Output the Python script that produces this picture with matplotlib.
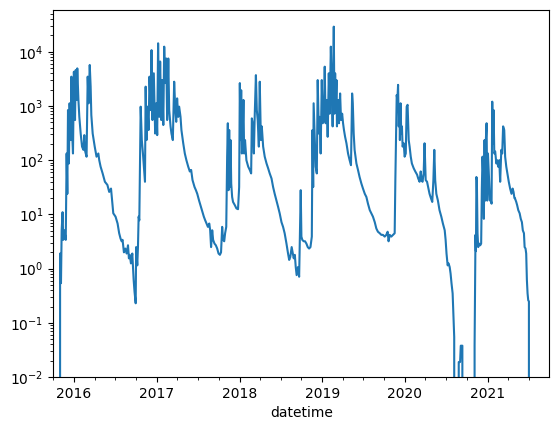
import matplotlib
matplotlib.use("Agg")
import matplotlib.pyplot as plt
import matplotlib.dates as mdates
import pandas as pd

# daily flow; day = days since start of record
start = "2015-10-01"
day = [
    0, 29, 30, 34, 37, 41, 44, 49, 55, 59, 62, 65, 69, 72, 77, 80, 84, 87, 91, 96,
    99, 103, 106, 111, 115, 121, 127, 133, 137, 141, 147, 152, 156, 161, 165, 168, 174, 183, 191, 199,
    203, 209, 218, 228, 239, 247, 255, 259, 265, 275, 284, 291, 297, 302, 306, 312, 318, 324, 330, 334,
    338, 343, 349, 355, 359, 364, 366, 371, 374, 377, 380, 383, 386, 389, 391, 396, 400, 405, 408, 412,
    416, 421, 425, 430, 434, 438, 444, 450, 455, 459, 463, 468, 472, 477, 481, 486, 490, 494, 499, 503,
    508, 512, 518, 522, 528, 534, 539, 543, 547, 552, 556, 562, 566, 574, 581, 588, 596, 603, 609, 615,
    624, 630, 636, 644, 652, 659, 665, 671, 677, 683, 689, 693, 697, 702, 706, 712, 718, 724, 730, 736,
    741, 746, 750, 755, 759, 764, 768, 771, 774, 777, 780, 783, 786, 790, 794, 802, 809, 816, 821, 824,
    827, 830, 833, 836, 840, 843, 847, 853, 861, 868, 874, 877, 881, 886, 890, 895, 899, 903, 908, 912,
    917, 921, 927, 934, 942, 949, 956, 964, 971, 978, 986, 993, 1000, 1008, 1015, 1022, 1030, 1037, 1042, 1047,
    1053, 1058, 1062, 1067, 1071, 1075, 1081, 1086, 1090, 1093, 1096, 1100, 1106, 1112, 1118, 1124, 1130, 1136, 1142, 1145,
    1148, 1150, 1155, 1159, 1164, 1168, 1173, 1177, 1181, 1186, 1190, 1195, 1199, 1203, 1208, 1212, 1217, 1221, 1226, 1230,
    1234, 1239, 1242, 1245, 1248, 1251, 1253, 1258, 1262, 1267, 1271, 1276, 1280, 1284, 1289, 1295, 1302, 1309, 1315, 1320,
    1323, 1327, 1331, 1339, 1346, 1353, 1361, 1368, 1376, 1383, 1390, 1398, 1405, 1412, 1420, 1427, 1434, 1442, 1449, 1456,
    1464, 1471, 1477, 1481, 1486, 1493, 1501, 1508, 1511, 1514, 1517, 1520, 1523, 1526, 1529, 1531, 1534, 1537, 1540, 1543,
    1548, 1552, 1557, 1561, 1565, 1570, 1574, 1579, 1584, 1592, 1599, 1607, 1612, 1618, 1623, 1627, 1631, 1636, 1640, 1645,
    1651, 1656, 1662, 1668, 1674, 1679, 1683, 1687, 1692, 1699, 1706, 1714, 1721, 1729, 1733, 1737, 1742, 1746, 1751, 1755,
    1759, 1764, 1768, 1771, 1774, 1790, 1791, 1797, 1800, 1807, 1808, 1860, 1861, 1865, 1867, 1869, 1871, 1874, 1877, 1881,
    1886, 1890, 1893, 1896, 1899, 1902, 1905, 1908, 1911, 1914, 1917, 1920, 1924, 1929, 1933, 1936, 1939, 1942, 1945, 1948,
    1952, 1957, 1961, 1965, 1970, 1974, 1979, 1983, 1987, 1992, 1996, 2001, 2007, 2012, 2018, 2024, 2029, 2033, 2037, 2039,
    2045, 2049, 2054, 2060, 2065, 2070, 2074, 2079, 2082, 2086, 2089, 2092, 2095, 2098, 2101, 2103, 2191,
]
flow = [
    0, 0, 1.9, 0.54, 5.1, 11, 3.4, 5.1, 3.4, 133, 24, 840, 87, 1120, 235, 3470, 270, 133, 4270, 550,
    4600, 1290, 4930, 1290, 630, 310, 178, 155, 290, 145, 116, 3470, 1120, 5700, 2270, 680, 310, 178, 116, 133,
    100, 76, 57, 40, 35, 26, 30, 20, 10.5, 9.1, 6.8, 4.5, 3.6, 3.2, 3.4, 2.0, 2.35, 1.9, 2.7, 1.55,
    1.8, 1.25, 1.9, 0.62, 0.37, 0.23, 2.5, 1.15, 2.5, 9.1, 7.8, 76, 970, 420, 235, 133, 76, 40, 2270, 235,
    970, 360, 3470, 840, 10700, 550, 4000, 310, 1120, 290, 14300, 630, 6600, 550, 3000, 445, 12400, 2640, 7500, 550,
    7500, 840, 420, 310, 235, 2800, 840, 510, 1380, 630, 970, 630, 360, 205, 133, 100, 76, 62, 66, 43,
    32, 28, 24, 18, 13.8, 11, 9.1, 7.8, 6.8, 5.9, 6.8, 5.1, 2.5, 5.1, 3.4, 2.9, 2.7, 2.35, 1.9, 1.8,
    2.0, 5.9, 3.4, 3.2, 4.5, 5.9, 116, 480, 28, 360, 32, 235, 37, 21, 17, 14.8, 12.9, 12.5, 32, 2640,
    235, 1950, 133, 235, 1290, 133, 235, 100, 76, 66, 57, 590, 480, 133, 720, 3700, 840, 550, 178, 2800,
    235, 420, 178, 116, 87, 71, 57, 46, 32, 24, 18, 13.8, 10.5, 7.2, 5.9, 4.5, 2.9, 1.9, 1.45, 1.65,
    2.5, 1.9, 1.55, 1.8, 1.07, 0.76, 1.07, 0.71, 5.9, 28, 3.9, 3.4, 3.2, 3.2, 2.9, 2.5, 2.35, 2.5, 3.9, 360,
    32, 1120, 235, 76, 57, 3000, 310, 630, 133, 3000, 480, 550, 5300, 480, 1290, 270, 4000, 720, 12400, 2640,
    420, 29000, 720, 4000, 970, 3000, 420, 1290, 480, 1700, 550, 720, 480, 360, 270, 205, 133, 100, 81, 1700,
    1120, 310, 155, 87, 66, 49, 37, 30, 24, 21, 15.8, 12, 10.5, 9.1, 7.2, 5.5, 4.8, 4.5, 4.2, 4.2,
    3.9, 4.2, 4.8, 3.2, 4.2, 3.9, 4.2, 4.5, 43, 235, 1590, 1290, 2450, 420, 970, 235, 1120, 310, 420, 178,
    205, 116, 133, 970, 1050, 235, 178, 116, 87, 71, 62, 54, 46, 40, 62, 43, 40, 57, 205, 43,
    40, 32, 24, 20, 17, 43, 155, 43, 24, 18, 12, 9.1, 6.8, 5.1, 3.4, 1.9, 1.15, 1.25, 1.07, 0.81,
    0.54, 0.35, 0.13, 0.055, 0, 0, 0.019, 0.019, 0.038, 0.038, 0, 0, 0.038, 4.2, 2.1, 49, 43, 4.5, 2.5, 2.9,
    2.7, 2.9, 30, 116, 57, 8.3, 235, 18, 250, 480, 18, 133, 57, 18, 18, 15.8, 1200, 205, 840, 133,
    145, 87, 100, 76, 100, 40, 155, 133, 420, 360, 116, 76, 54, 40, 30, 24, 30, 26, 20, 20,
    17, 14.8, 12, 10.5, 8.3, 7.2, 5.1, 4.5, 2.5, 2.35, 1.9, 0.62, 0.35, 0.26, 0.25, 0, 0,
]

dates = pd.Timestamp(start) + pd.to_timedelta(day, unit="D")

fig = plt.figure(figsize=(5.58, 4.33), dpi=100)
ax = fig.add_subplot(111)
plt.subplots_adjust(left=0.0955, right=0.9844, top=0.977, bottom=0.129)

ax.plot(dates, flow, color="#1f77b4", linewidth=1.5)
ax.set_yscale("log")
ax.set_ylim(1e-2, 10 ** 4.77)
ax.set_xlim(dates[0], dates[-1])

ax.xaxis.set_major_locator(mdates.YearLocator())
ax.xaxis.set_major_formatter(mdates.DateFormatter("%Y"))
ax.xaxis.set_minor_locator(mdates.MonthLocator(bymonth=[1, 4, 7, 10]))
ax.set_xlabel("datetime")

fig.savefig("out.png", dpi=100)
